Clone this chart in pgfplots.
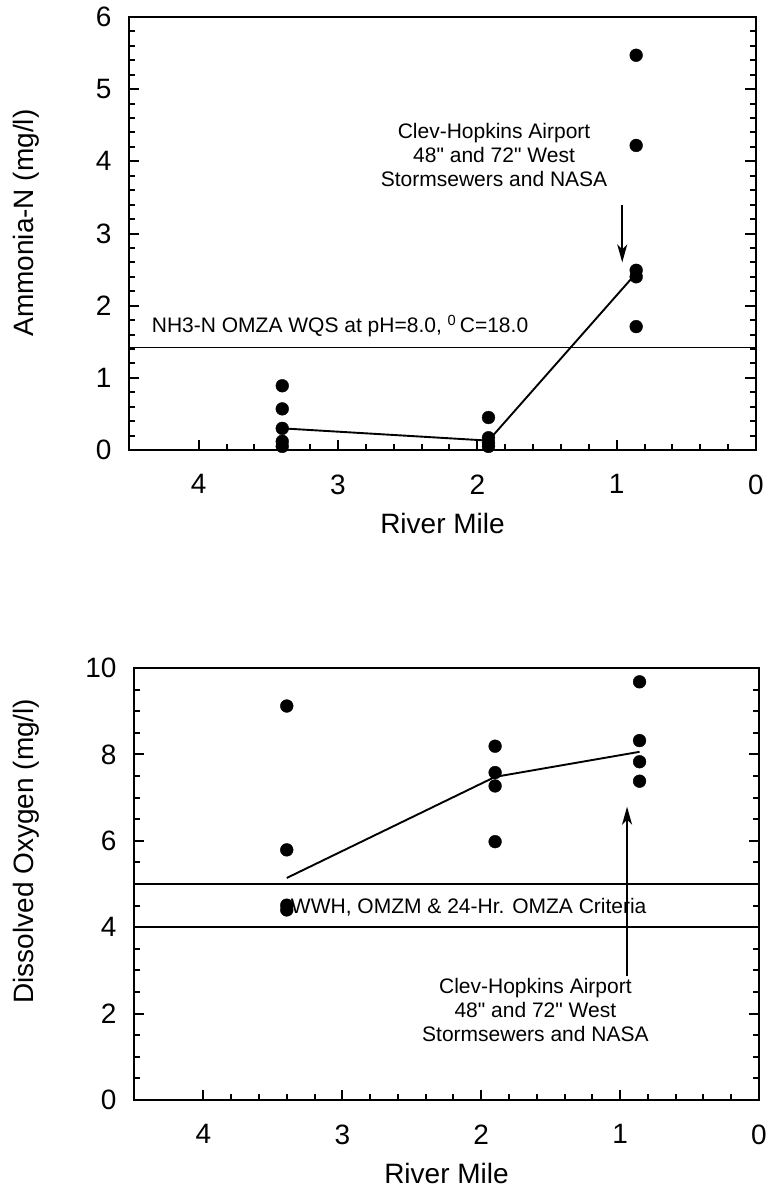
\documentclass[border=0pt]{standalone}
\usepackage{fontspec}
\setmainfont{Liberation Sans}
\newfontfamily\arial{Liberation Sans}
\usepackage{pgfplots}
\pgfplotsset{compat=1.18}
\usetikzlibrary{arrows.meta}
\pgfplotsset{
  myaxis/.style={
    scale only axis,
    x dir=reverse, xmin=0, xmax=4.5,
    xtick={0,1,2,3,4},
    minor x tick num=4,
    tick align=inside,
    xtick pos=left, xticklabel pos=left,
    ytick pos=both, yticklabel pos=left,
    axis line style={line width=2pt},
    major tick length=10.5pt, minor tick length=5.8pt,
    every tick/.style={line width=2pt, black},
    ticklabel style={font=\arial\fontsize{28}{30}\selectfont},
    /pgf/number format/assume math mode=true,
    label style={font=\arial\fontsize{28}{32}\selectfont},
    xticklabel style={yshift=-21pt},
    yticklabel style={xshift=-14pt},
    xlabel style={at={(axis description cs:0.5,0)}, anchor=base, yshift=-83pt},
    clip=false,
  },
  pts/.style={only marks, mark=*, mark size=6.4pt, black, mark options={fill=black}},
  mline/.style={no marks, black, line width=1.9pt},
  hline/.style={no marks, black, line width=1.9pt},
}
\begin{document}
\arial
\begin{tikzpicture}
\useasboundingbox (0pt,0pt) rectangle (766pt,-1190pt);
% ---------- Top panel: Ammonia-N ----------
\begin{axis}[myaxis,
  at={(129pt,-450pt)}, anchor=south west,
  width=627pt, height=433pt,
  ymin=0, ymax=6, ytick={0,1,2,3,4,5,6}, minor y tick num=4,
  xlabel={River Mile},
  ylabel={Ammonia-N (mg/l)},
  ylabel style={at={(axis description cs:-0.1643,0.524)}, anchor=center},
]
\addplot[hline] coordinates {(4.5,1.42) (0,1.42)};
\addplot[mline] coordinates {(3.4,0.30) (1.92,0.13) (0.86,2.45)};
\addplot[pts] coordinates {
 (3.4,0.89) (3.4,0.57) (3.4,0.30) (3.4,0.12) (3.4,0.05)
 (1.92,0.45) (1.92,0.17) (1.92,0.10) (1.92,0.05)
 (0.86,5.47) (0.86,4.22) (0.86,2.49) (0.86,2.40) (0.86,1.71)};
\node[anchor=west, font=\arial\fontsize{21}{24}\selectfont, inner sep=0pt]
  at (axis cs:4.337,1.72) {NH3-N OMZA WQS at pH=8.0, \textsuperscript{0}\,C=18.0};
\node[align=center, font=\arial\fontsize{21}{24}\selectfont, inner sep=0pt]
  at (axis cs:1.88,4.09) {Clev-Hopkins Airport\\48" and 72" West\\Stormsewers and NASA};
\draw[line width=1.7pt, -{Stealth[length=18pt,width=10pt,inset=5pt]}]
  (axis cs:0.96,3.39) -- (axis cs:0.96,2.60);
\end{axis}
% ---------- Bottom panel: Dissolved Oxygen ----------
\begin{axis}[myaxis,
  at={(134pt,-1100pt)}, anchor=south west,
  width=625pt, height=432pt,
  ymin=0, ymax=10, ytick={0,2,4,6,8,10}, minor y tick num=3,
  xlabel={River Mile},
  ylabel={Dissolved Oxygen (mg/l)},
  ylabel style={at={(axis description cs:-0.1728,0.576)}, anchor=center},
]
\addplot[hline] coordinates {(4.5,5) (0,5)};
\addplot[hline] coordinates {(4.5,4) (0,4)};
\addplot[mline] coordinates {(3.4,5.14) (1.9,7.48) (0.86,8.06)};
\addplot[pts] coordinates {
 (3.4,9.12) (3.4,5.79) (3.4,4.51) (3.4,4.40)
 (1.9,8.19) (1.9,7.58) (1.9,7.27) (1.9,5.98)
 (0.86,9.68) (0.86,8.32) (0.86,7.83) (0.86,7.38)};
\node[font=\arial\fontsize{21}{24}\selectfont, inner sep=0pt]
  at (axis cs:2.09,4.47) {WWH, OMZM \& 24-Hr. OMZA Criteria};
\node[align=center, font=\arial\fontsize{21}{24}\selectfont, inner sep=0pt]
  at (axis cs:1.61,2.08) {Clev-Hopkins Airport\\48" and 72" West\\Stormsewers and NASA};
\draw[line width=1.7pt, -{Stealth[length=18pt,width=10pt,inset=5pt]}]
  (axis cs:0.95,2.86) -- (axis cs:0.95,6.79);
\end{axis}
\end{tikzpicture}
\end{document}
